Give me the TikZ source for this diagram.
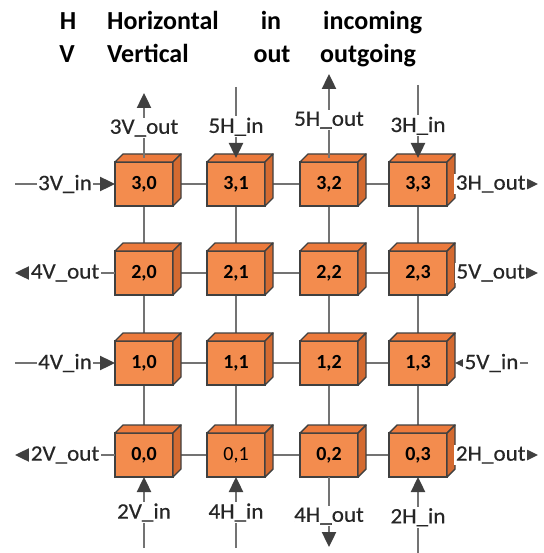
\documentclass[tikz,border=0pt]{standalone}
\usepackage{fontspec}
\setmainfont{Carlito}
\newfontfamily\lblfont[FakeStretch=1.05,FakeBold=0.4]{Carlito}
\usetikzlibrary{arrows.meta,backgrounds}
\definecolor{cubefront}{HTML}{F38C4E}
\definecolor{cubetop}{HTML}{EC7A3C}
\definecolor{cubeside}{HTML}{D46A30}
\definecolor{cubeline}{HTML}{404040}
\begin{document}
\begin{tikzpicture}[x=1pt,y=-1pt,
 cell/.style={draw=cubeline,fill=cubefront,line width=1.4pt,minimum width=58pt,minimum height=44pt,inner sep=0pt,outer sep=0pt,font=\bfseries\fontsize{20}{24}\selectfont},
 face/.style={draw=cubeline,line width=1.4pt,line join=round},
 hd/.style={font=\bfseries\fontsize{26}{30}\selectfont,inner sep=0pt},
 lbl/.style={fill=white,inner sep=1.5pt,font=\lblfont\fontsize{22}{26}\selectfont,text=black!85},
 link/.style={draw=black!55,line width=2.6pt},
 a/.style={draw=black!55,line width=2.4pt,-{Triangle[length=15pt,width=14pt,color=black!75]}}]
\useasboundingbox (0,0) rectangle (543,553);
% legend
\node[hd,anchor=base] (hH) at (68,30) {H};
\node[hd,anchor=base west] (hHor) at (107,30) {Horizontal};
\node[hd,anchor=base] (hin) at (271,30) {in};
\node[hd,anchor=base west] (hinc) at (323,30) {incoming};
\node[hd,anchor=base] (hV) at (67,63) {V};
\node[hd,anchor=base west] (hVer) at (107,63) {Vertical};
\node[hd,anchor=base] (hout) at (272,63) {out};
\node[hd,anchor=base west] (hog) at (320,63) {outgoing};
% routers
\foreach \r/\y in {3/184,2/273,1/363,0/455}
 \foreach \c/\x in {0/144,1/236,2/329,3/418}{
  \node[cell] (n\r\c) at (\x,\y) {\ifnum\r\c=1 \mdseries\fi\r,\c};
  \filldraw[face,fill=cubetop] (n\r\c.north west) -- ++(8,-8) -- ++(58,0) -- (n\r\c.north east) -- cycle;
  \filldraw[face,fill=cubeside] (n\r\c.north east) -- ++(8,-8) -- ++(0,44) -- (n\r\c.south east) -- cycle;
 }
\begin{scope}[on background layer]
\foreach \r in {0,...,3}{\foreach \c/\d in {0/1,1/2,2/3} \draw[link] (n\r\c) -- (n\r\d);}
\foreach \c in {0,...,3}{\foreach \r/\s in {3/2,2/1,1/0} \draw[link] (n\r\c) -- (n\s\c);}
\end{scope}
% ports
\coordinate (w3) at (15,184); \coordinate (w2) at (15,273); \coordinate (w1) at (15,363); \coordinate (w0) at (15,455);
\coordinate (e3) at (538,184); \coordinate (e2) at (538,273); \coordinate (e1) at (528,363); \coordinate (e0) at (538,455);
\coordinate (t0) at (144,93); \coordinate (t1) at (236,87); \coordinate (t2) at (329,74); \coordinate (t3) at (418,85);
\coordinate (b0) at (144,548); \coordinate (b1) at (236,548); \coordinate (b2) at (329,547); \coordinate (b3) at (418,553);
\draw[a] (w3) -- node[lbl]{3V\_in} (n30);
\draw[a] ([xshift=8pt]n33.east) -- node[lbl,pos=.43]{3H\_out} (e3);
\draw[a] (n20) -- node[lbl]{4V\_out} (w2);
\draw[a] ([xshift=8pt]n23.east) -- node[lbl,pos=.43]{5V\_out} (e2);
\draw[a] (w1) -- node[lbl]{4V\_in} (n10);
\draw[a] (e1) -- node[lbl]{5V\_in} ([xshift=8pt]n13.east);
\draw[a] (n00) -- node[lbl]{2V\_out} (w0);
\draw[a] ([xshift=8pt]n03.east) -- node[lbl,pos=.43]{2H\_out} (e0);
\draw[a] ([yshift=4pt]n30.north) -- node[lbl,pos=.46]{3V\_out} (t0);
\draw[a] (t1) -- node[lbl,pos=.56]{5H\_in} ([yshift=4pt]n31.north);
\draw[a] ([yshift=4pt]n32.north) -- node[lbl,pos=.45]{5H\_out} (t2);
\draw[a] (t3) -- node[lbl,pos=.56]{3H\_in} ([yshift=4pt]n33.north);
\draw[a] (b0) -- node[lbl]{2V\_in} (n00);
\draw[a] (b1) -- node[lbl]{4H\_in} (n01);
\draw[a] (n02) -- node[lbl,pos=.56]{4H\_out} (b2);
\draw[a] (b3) -- node[lbl,pos=.47]{2H\_in} (n03);
\end{tikzpicture}
\end{document}
